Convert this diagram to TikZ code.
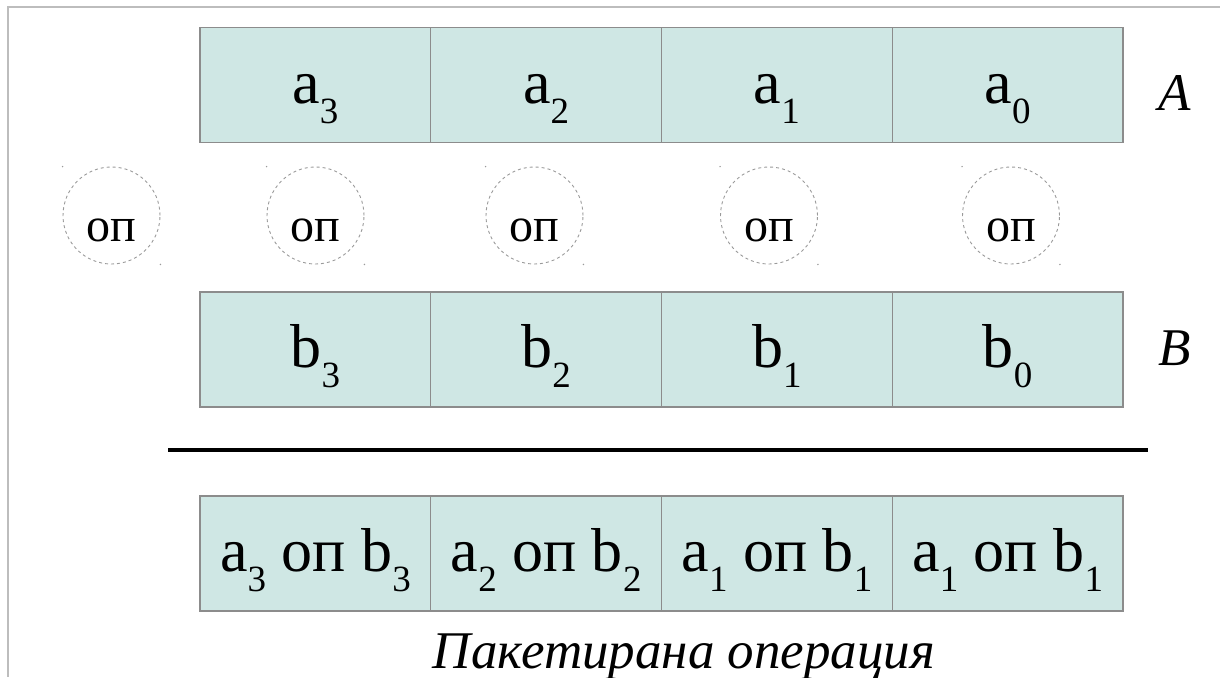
\documentclass[tikz,border=0pt]{standalone}
\usepackage{fontspec}
\setmainfont{Liberation Serif}
\usepackage{tikz}
\usetikzlibrary{positioning}
\definecolor{cellfill}{HTML}{CFE7E4}
\definecolor{cellline}{HTML}{8C8C8C}
\definecolor{framegray}{HTML}{BDBDBD}
\definecolor{opgray}{HTML}{9A9A9A}
\newcommand{\idx}[1]{\raisebox{-20pt}{\fontsize{37}{37}\selectfont #1}}

\begin{document}
\begin{tikzpicture}[x=1pt, y=-1pt,
  cell/.style={draw=cellline, line width=1.2pt, fill=cellfill, minimum width=230.75pt, minimum height=115pt, inner sep=0pt, outer sep=0pt, text height=46pt, text depth=10pt, font=\fontsize{62}{62}\selectfont},
  opcirc/.style={circle, draw=opgray, dashed, line width=0.9pt, minimum size=97pt, inner sep=0pt, text height=51pt, text depth=0pt, font=\fontsize{48}{48}\selectfont},
  lbl/.style={font=\fontsize{53}{53}\selectfont\itshape, inner sep=0pt, anchor=base}
]
  \useasboundingbox (0,0) rectangle (1220,677);
  \coordinate (fTL) at (8,7);
  \coordinate (fTR) at (1220,7);
  \coordinate (fBL) at (8,677);
  \draw[framegray, line width=1.5pt] (fTR) -- (fTL) -- (fBL);

  \node[cell] (a3) at (315.4,85) {a\idx{3}};
  \node[cell, right=0pt of a3] (a2) {a\idx{2}};
  \node[cell, right=0pt of a2] (a1) {a\idx{1}};
  \node[cell, right=0pt of a1] (a0) {a\idx{0}};
  \node[lbl] (labA) at (1175,110) {A};

  \node[opcirc] (op4) at (111.5,215.5) {оп};
  \node[opcirc] (op3) at (315.5,215.5) {оп};
  \node[opcirc] (op2) at (534.5,215.5) {оп};
  \node[opcirc] (op1) at (769,215.5) {оп};
  \node[opcirc] (op0) at (1011,215.5) {оп};
  \fill[opgray] (op4.north -| op4.west) circle (0.8pt) (op4.south -| op4.east) circle (0.8pt)
    (op3.north -| op3.west) circle (0.8pt) (op3.south -| op3.east) circle (0.8pt)
    (op2.north -| op2.west) circle (0.8pt) (op2.south -| op2.east) circle (0.8pt)
    (op1.north -| op1.west) circle (0.8pt) (op1.south -| op1.east) circle (0.8pt)
    (op0.north -| op0.west) circle (0.8pt) (op0.south -| op0.east) circle (0.8pt);

  \node[cell] (b3) at (315.4,349.5) {b\idx{3}};
  \node[cell, right=0pt of b3] (b2) {b\idx{2}};
  \node[cell, right=0pt of b2] (b1) {b\idx{1}};
  \node[cell, right=0pt of b1] (b0) {b\idx{0}};
  \node[lbl] (labB) at (1175,365) {B};

  \coordinate (ruleL) at (168,450);
  \coordinate (ruleR) at (1148,450);
  \draw[line width=3.5pt] (ruleL) -- (ruleR);

  \node[cell] (r3) at (315.4,553.5) {a\idx{3} оп b\idx{3}};
  \node[cell, right=0pt of r3] (r2) {a\idx{2} оп b\idx{2}};
  \node[cell, right=0pt of r2] (r1) {a\idx{1} оп b\idx{1}};
  \node[cell, right=0pt of r1] (r0) {a\idx{1} оп b\idx{1}};
  \node[lbl] (caption) at (684,668) {Пакетирана операция};
\end{tikzpicture}
\end{document}
